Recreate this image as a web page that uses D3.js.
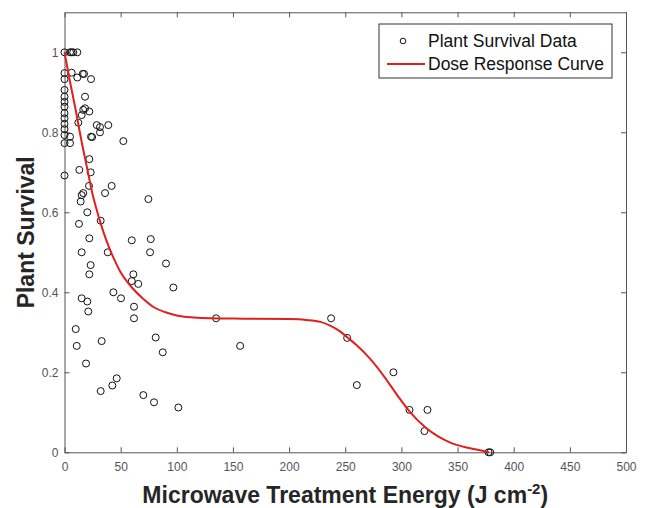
<!DOCTYPE html>
<html>
<head>
<meta charset="utf-8">
<script src="https://cdn.jsdelivr.net/npm/d3@7"></script>
<style>
  body { margin: 0; background: #fff; }
  svg { font-family: "Liberation Sans", Arial, Helvetica, sans-serif; }
</style>
</head>
<body>
<script>
// plant survival observations (energy J/cm^2, survival fraction)
const energy = [
  0, 0, 0, 0, 0, 0, 0, 0, 0, 0, 0, 0, 0, 0,
  4.9, 6.4, 7.8, 11.4,
  6.4, 11.4, 16.2, 17.4, 23.6,
  18.3,
  18.3, 16.7, 22.1, 15.3, 12.3,
  4.9, 4.9,
  28.7, 31.6, 39.0, 31.6,
  23.6, 24.6,
  52.4,
  22.1,
  13.2, 23.3,
  42.0, 21.8,
  36.1, 16.7, 15.3, 14.4,
  74.7,
  20.3,
  12.9, 32.2,
  22.1, 59.9, 76.8,
  15.3, 38.5, 76.2,
  90.4, 23.3,
  22.1, 61.3,
  59.9, 65.7, 96.9,
  43.5,
  50.3, 15.3,
  20.3, 21.2,
  61.9, 61.9,
  10.0, 10.9, 33.1,
  81.2, 87.5,
  19.2,
  46.5, 32.2, 42.6,
  70.2, 79.7, 101.4,
  135, 156.4, 237.4, 251.7, 260.3, 292.9, 307.2, 323.2, 320.5, 377.6, 379.1
]
const survival = [
  1.0, 0.948, 0.933, 0.906, 0.889, 0.876, 0.864, 0.848, 0.835, 0.821, 0.808, 0.793, 0.773, 0.692,
  1.0, 1.0, 1.0, 1.0,
  0.949, 0.937, 0.946, 0.946, 0.933,
  0.889,
  0.86, 0.856, 0.852, 0.843, 0.824,
  0.789, 0.773,
  0.818, 0.813, 0.818, 0.80,
  0.789, 0.788,
  0.778,
  0.733,
  0.706, 0.70,
  0.666, 0.666,
  0.648, 0.648, 0.643, 0.627,
  0.633,
  0.60,
  0.571, 0.579,
  0.535, 0.53, 0.533,
  0.50, 0.50, 0.50,
  0.472, 0.468,
  0.445, 0.445,
  0.428, 0.421, 0.412,
  0.40,
  0.385, 0.385,
  0.377, 0.352,
  0.364, 0.335,
  0.308, 0.266, 0.278,
  0.287, 0.25,
  0.222,
  0.185, 0.153, 0.167,
  0.143, 0.125, 0.112,
  0.335, 0.266, 0.335, 0.286, 0.168, 0.20, 0.106, 0.106, 0.053, 0, 0
]

// fitted dose response curve
const curveEnergy = [0, 5, 10, 15, 20, 25, 30, 35, 40, 45, 50, 60, 70, 80, 90, 100, 115, 130, 160, 200, 215, 228, 237, 245, 252, 260, 272, 285, 297, 307, 321, 333, 343, 358, 370, 378]
const curveSurvival = [1.0, 0.925, 0.855, 0.78, 0.712, 0.645, 0.593, 0.548, 0.51, 0.478, 0.45, 0.412, 0.384, 0.362, 0.35, 0.342, 0.337, 0.335, 0.334, 0.333, 0.331, 0.326, 0.316, 0.303, 0.287, 0.268, 0.234, 0.188, 0.14, 0.103, 0.063, 0.039, 0.025, 0.012, 0.005, 0]

const xTicks = [0, 50, 100, 150, 200, 250, 300, 350, 400, 450, 500]
const yTicks = [0, 0.2, 0.4, 0.6, 0.8, 1]
const legendLabels = ["Plant Survival Data", "Dose Response Curve"]

const width = 646
const height = 508
const margin = { top: 12.3, right: 20, bottom: 55.7, left: 64.5 }

const svg = d3.select("body").append("svg")
    .attr("width", width)
    .attr("height", height)

const xScale = d3.scaleLinear()
    .domain([0, 500])
    .range([margin.left, width - margin.right])

const yScale = d3.scaleLinear()
    .domain([0, 1.1])
    .range([height - margin.bottom, margin.top])

const axisColor = "#555"

/* Axes: ticks point inward like matlab */
const xAxis = d3.axisBottom(xScale).tickValues(xTicks).tickSizeInner(-5).tickSizeOuter(0).tickPadding(10)
const gx = svg.append("g")
    .attr("transform", `translate(0, ${yScale(0)})`)
    .call(xAxis)

const yAxis = d3.axisLeft(yScale).tickValues(yTicks).tickSizeInner(-5).tickSizeOuter(0).tickPadding(6)
    .tickFormat(d3.format("~g"))
const gy = svg.append("g")
    .attr("transform", `translate(${xScale(0)}, 0)`)
    .call(yAxis)

const xTop = d3.axisTop(xScale).tickValues(xTicks).tickSizeInner(-5).tickSizeOuter(0).tickFormat("")
const gxTop = svg.append("g")
    .attr("transform", `translate(0, ${yScale(1.1)})`)
    .call(xTop)

const yRight = d3.axisRight(yScale).tickValues(yTicks).tickSizeInner(-5).tickSizeOuter(0).tickFormat("")
const gyRight = svg.append("g")
    .attr("transform", `translate(${xScale(500)}, 0)`)
    .call(yRight)

for (const g of [gx, gy, gxTop, gyRight]) {
    g.select(".domain").attr("stroke", axisColor).attr("stroke-width", 1)
    g.selectAll(".tick line").attr("stroke", axisColor)
    g.selectAll(".tick text")
        .attr("fill", "#555")
        .style("font-size", "12px")
        .style("font-family", "'Liberation Sans', Arial, sans-serif")
}

/* Data points */
const points = energy.map((e, i) => ({ x: e, y: survival[i] }))
svg.append("g")
    .selectAll("circle")
    .data(points)
    .enter()
    .append("circle")
    .attr("cx", d => xScale(d.x))
    .attr("cy", d => yScale(d.y))
    .attr("r", 3.5)
    .attr("fill", "none")
    .attr("stroke", "#111")
    .attr("stroke-width", 1)

/* Dose response curve */
const curvePoints = curveEnergy.map((e, i) => ({ x: e, y: curveSurvival[i] }))
const line = d3.line()
    .x(d => xScale(d.x))
    .y(d => yScale(d.y))
    .curve(d3.curveMonotoneX)

svg.append("path")
    .datum(curvePoints)
    .attr("d", line)
    .attr("fill", "none")
    .attr("stroke", "#e0201c")
    .attr("stroke-width", 2)

/* Axis titles */
svg.append("text")
    .attr("transform", `translate(34, ${(yScale(0) + yScale(1.1)) / 2}) rotate(-90)`)
    .attr("text-anchor", "middle")
    .attr("font-weight", "bold")
    .attr("font-size", 23)
    .attr("fill", "#262626")
    .text("Plant Survival")

const xTitle = svg.append("text")
    .attr("x", (xScale(0) + xScale(500)) / 2)
    .attr("y", 503)
    .attr("text-anchor", "middle")
    .attr("font-weight", "bold")
    .attr("font-size", 23)
    .attr("fill", "#262626")
xTitle.append("tspan").text("Microwave Treatment Energy (J cm")
xTitle.append("tspan").attr("dy", -9).attr("font-size", 15).text("-2")
xTitle.append("tspan").attr("dy", 9).text(")")

/* Legend */
const legend = svg.append("g")
legend.append("rect")
    .attr("x", 379)
    .attr("y", 24)
    .attr("width", 233)
    .attr("height", 54)
    .attr("fill", "#fff")
    .attr("stroke", "#333")
    .attr("stroke-width", 1)

legend.append("circle")
    .attr("cx", 403)
    .attr("cy", 41)
    .attr("r", 2.8)
    .attr("fill", "none")
    .attr("stroke", "#111")

legend.append("line")
    .attr("x1", 387)
    .attr("x2", 425)
    .attr("y1", 64)
    .attr("y2", 64)
    .attr("stroke", "#e0201c")
    .attr("stroke-width", 2)

legend.selectAll("text.lbl")
    .data(legendLabels)
    .enter()
    .append("text")
    .attr("class", "lbl")
    .attr("x", 428)
    .attr("y", (d, i) => 41 + i * 23)
    .attr("dy", "0.35em")
    .attr("font-size", 17.5)
    .attr("fill", "#111")
    .text(d => d)
</script>
</body>
</html>
